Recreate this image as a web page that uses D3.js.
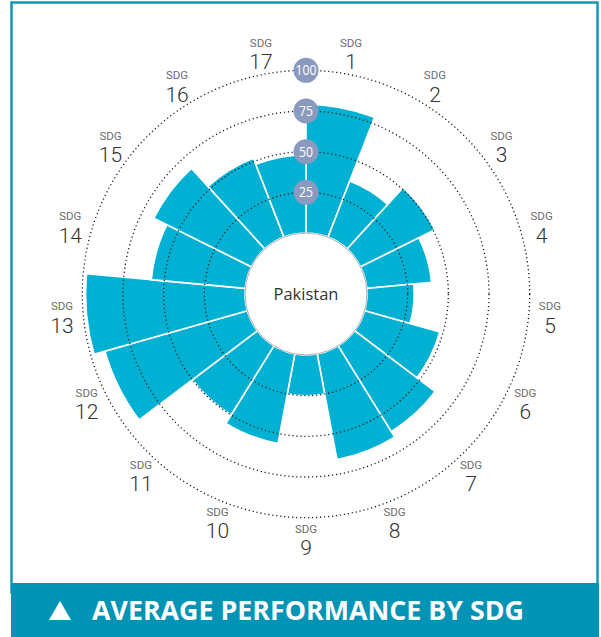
<!DOCTYPE html>
<html>
<head>
<meta charset="utf-8">
<script src="https://cdn.jsdelivr.net/npm/d3@7/dist/d3.min.js"></script>
<style>
  html, body { margin: 0; padding: 0; background: #fff; }
  svg { display: block; }
</style>
</head>
<body>
<svg id="chart" width="601" height="637"></svg>
<script>
// SDG categories and Pakistan's average performance score per goal (0–100)
const goals = ["1","2","3","4","5","6","7","8","9","10","11","12","13","14","15","16","17"];
const scores = [79, 37, 51, 40, 29, 48, 62, 66, 25, 56, 50, 91, 98, 58, 67, 52, 48];
const ringTicks = [25, 50, 75, 100];
const countryName = "Pakistan";
const title = "AVERAGE PERFORMANCE BY SDG";

const W = 601, H = 637;
const cx = 306, cy = 294;
const innerR = 61, outerR = 223.7;

const barColor = "#00b1d3";
const frameColor = "#1297b6";
const bannerColor = "#0394b5";
const badgeColor = "#8a9abe";

const svg = d3.select("#chart");

// frame and title banner
svg.append("rect")
  .attr("x", 11.5).attr("y", 2.5)
  .attr("width", 586).attr("height", 590)
  .attr("fill", "#fff")
  .attr("stroke", frameColor).attr("stroke-width", 2.5);

svg.append("rect")
  .attr("x", 11).attr("y", 583)
  .attr("width", 588).attr("height", H - 583)
  .attr("fill", bannerColor);

svg.append("path")
  .attr("d", "M49,620 L60,601 L71,620 Z")
  .attr("fill", "#fff");

svg.append("text")
  .attr("x", 92).attr("y", 620)
  .attr("fill", "#fff")
  .attr("font-family", "'Open Sans', 'Noto Sans', sans-serif")
  .attr("font-weight", 700)
  .attr("font-size", 26)
  .attr("textLength", 432)
  .attr("lengthAdjust", "spacingAndGlyphs")
  .text(title);

// scales
const angle = d3.scaleBand()
  .domain(goals)
  .range([0, 2 * Math.PI])
  .paddingInner(0).paddingOuter(0);

const radius = d3.scaleLinear()
  .domain([0, 100])
  .range([innerR, outerR]);

const g = svg.append("g").attr("transform", `translate(${cx},${cy})`);

// bars
const arc = d3.arc()
  .innerRadius(innerR)
  .outerRadius(d => radius(d.value))
  .startAngle(d => angle(d.goal))
  .endAngle(d => angle(d.goal) + angle.bandwidth());

const data = goals.map((goal, i) => ({ goal, value: scores[i] }));

g.append("g").selectAll("path")
  .data(data)
  .join("path")
  .attr("d", arc)
  .attr("fill", barColor)
  .attr("stroke", "#fff")
  .attr("stroke-width", 1.6)
  .attr("stroke-linejoin", "miter");

// dotted reference rings
g.append("g").selectAll("circle")
  .data(ringTicks)
  .join("circle")
  .attr("r", d => radius(d))
  .attr("fill", "none")
  .attr("stroke", "#1a1a1a")
  .attr("stroke-width", 1.3)
  .attr("stroke-dasharray", "1.2,2.8");

// centre disc with country name
g.append("circle")
  .attr("r", innerR)
  .attr("fill", "#fff")
  .attr("stroke", "#9a9a9a")
  .attr("stroke-width", 0.8);

g.append("text")
  .attr("text-anchor", "middle")
  .attr("dy", "0.35em")
  .attr("fill", "#333")
  .attr("font-family", "'Open Sans', 'Noto Sans', sans-serif")
  .attr("font-size", 16.5)
  .text(countryName);

// ring value badges along the top axis
const badges = g.append("g").selectAll("g")
  .data(ringTicks)
  .join("g")
  .attr("transform", d => `translate(0,${-radius(d)})`);

badges.append("circle")
  .attr("r", 12.5)
  .attr("fill", badgeColor);

badges.append("text")
  .attr("text-anchor", "middle")
  .attr("dy", "0.36em")
  .attr("fill", "#fff")
  .attr("font-family", "'Liberation Sans Narrow', 'Open Sans', sans-serif")
  .attr("font-size", 14)
  .attr("textLength", d => d >= 100 ? 21 : 14)
  .attr("lengthAdjust", "spacingAndGlyphs")
  .text(d => d);

// goal labels around the outside: "SDG" above the goal number
const labelR = 245;
const labels = g.append("g").selectAll("g")
  .data(goals)
  .join("g")
  .attr("transform", d => {
    const a = angle(d) + angle.bandwidth() / 2;
    return `translate(${labelR * Math.sin(a)},${-labelR * Math.cos(a)})`;
  });

labels.append("text")
  .attr("text-anchor", "middle")
  .attr("y", -6.5)
  .attr("fill", "#6d6d6d")
  .attr("font-family", "Roboto, 'Open Sans', sans-serif")
  .attr("font-size", 11.5)
  .text("SDG");

labels.append("text")
  .attr("text-anchor", "middle")
  .attr("y", 16)
  .attr("fill", "#333")
  .attr("font-family", "Roboto, 'Open Sans', sans-serif")
  .attr("font-weight", 300)
  .attr("font-size", 21)
  .text(d => d);
</script>
</body>
</html>
